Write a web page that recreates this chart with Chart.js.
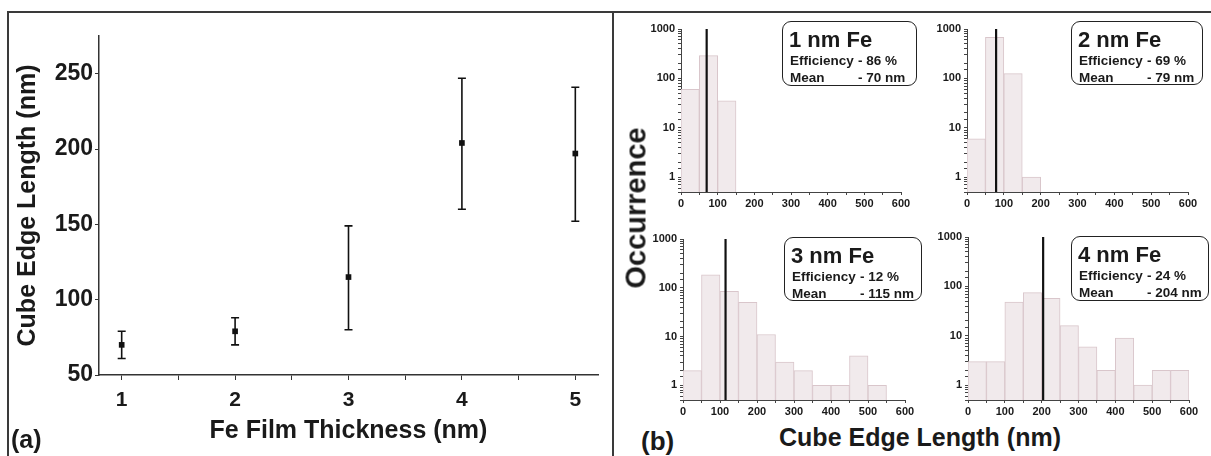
<!DOCTYPE html>
<html>
<head>
<meta charset="utf-8">
<script src="https://cdn.jsdelivr.net/npm/chart.js@4.4.1/dist/chart.umd.min.js"></script>
<style>
  html, body { margin: 0; padding: 0; background: #fff; }
  #fig { position: relative; width: 1211px; height: 456px; overflow: hidden;
         font-family: 'Liberation Sans', Arial, sans-serif; font-weight: bold; color: #1a1a1a; }
  canvas { position: absolute; }
  .rule { position: absolute; background: #3a3a3a; }
  .lbl { position: absolute; white-space: nowrap; line-height: 1; }
  .box { position: absolute; border: 1.5px solid #222; border-radius: 9px; box-sizing: border-box; overflow: hidden; }
  .box .head { position: absolute; left: 6px; top: 5px; font-size: 22px; }
  .box .row { position: absolute; left: 7px; font-size: 13.5px; white-space: nowrap; }
  .box .row span { display: inline-block; width: 68px; }
</style>
</head>
<body>
<div id="fig">
  <canvas id="cubeChart" width="612" height="456" style="left:0;top:0"></canvas>
  <canvas id="hist1" width="275" height="200" style="left:640px;top:15px"></canvas>
  <canvas id="hist2" width="275" height="200" style="left:926px;top:15px"></canvas>
  <canvas id="hist3" width="278" height="196" style="left:641px;top:225px"></canvas>
  <canvas id="hist4" width="276" height="198" style="left:927px;top:223px"></canvas>

  <div class="rule" style="left:7px;top:11px;width:1204px;height:1.5px"></div>
  <div class="rule" style="left:7px;top:11px;width:1.5px;height:445px"></div>
  <div class="rule" style="left:612px;top:11px;width:1.5px;height:445px"></div>

  <div class="lbl" style="left:11px;top:427px;font-size:25px">(a)</div>
  <div class="lbl" style="left:641px;top:428px;font-size:26px">(b)</div>
  <div class="lbl" style="left:920px;top:437px;font-size:25px;transform:translate(-50%,-50%)">Cube Edge Length (nm)</div>
  <div class="lbl" style="left:636px;top:208px;font-size:29px;transform:translate(-50%,-50%) rotate(-90deg)">Occurrence</div>

  <div class="box" id="box1" style="left:782px;top:21px;width:135px;height:65px"></div>
  <div class="box" id="box2" style="left:1071px;top:21px;width:132px;height:64px"></div>
  <div class="box" id="box3" style="left:784px;top:237px;width:138px;height:64px"></div>
  <div class="box" id="box4" style="left:1071px;top:236px;width:138px;height:65px"></div>
</div>
<script>
// (a) mean cube edge length vs Fe film thickness
var thickness = [1, 2, 3, 4, 5];
var edgeMean = [70, 79, 115, 204, 197];
var edgeLow = [61, 70, 80, 160, 152];
var edgeHigh = [79, 88, 149, 247, 241];
var thicknessTicks = [1, 1.5, 2, 2.5, 3, 3.5, 4, 4.5, 5];
var edgeTicks = [50, 100, 150, 200, 250];

// (b) histograms, 50 nm bins
var binCenters = [25, 75, 125, 175, 225, 275, 325, 375, 425, 475, 525, 575];
var counts1nm = [60, 290, 35];
var counts2nm = [6, 680, 125, 1];
var counts3nm = [2, 185, 85, 50, 11, 3, 2, 1, 1, 4, 1];
var counts4nm = [3, 3, 48, 75, 57, 16, 6, 2, 9, 1, 2, 2];
var filmLabels = ['1 nm Fe', '2 nm Fe', '3 nm Fe', '4 nm Fe'];
var efficiency = [86, 69, 12, 24];
var meanEdge = [70, 79, 115, 204];
var logTickLabels = [1, 10, 100, 1000];

Chart.defaults.font.family = "'Liberation Sans', Arial, sans-serif";
Chart.defaults.font.weight = 'bold';
Chart.defaults.color = '#1a1a1a';
Chart.defaults.animation = false;
Chart.defaults.plugins.legend.display = false;
Chart.defaults.plugins.tooltip.enabled = false;

var errorBars = {
	id: 'errorBars',
	beforeDatasetsDraw: function (chart) {
		var ctx = chart.ctx,
			xs = chart.scales.x,
			ys = chart.scales.y;
		ctx.save();
		ctx.strokeStyle = '#111';
		ctx.lineWidth = 1.6;
		for (var i = 0; i < thickness.length; i++) {
			var px = xs.getPixelForValue(thickness[i]),
				lo = ys.getPixelForValue(edgeLow[i]),
				hi = ys.getPixelForValue(edgeHigh[i]);
			ctx.beginPath();
			ctx.moveTo(px, lo); ctx.lineTo(px, hi);
			ctx.moveTo(px - 4, lo); ctx.lineTo(px + 4, lo);
			ctx.moveTo(px - 4, hi); ctx.lineTo(px + 4, hi);
			ctx.stroke();
		}
		ctx.restore();
	}
};

function fixedTicks(values) {
	return function (s) {
		s.ticks = values.map(function (v) { return {value: v}; });
	};
}

new Chart(document.getElementById('cubeChart'), {
	type: 'scatter',
	data: {
		datasets: [{
			data: thickness.map(function (t, i) { return {x: t, y: edgeMean[i]}; }),
			pointStyle: 'rect',
			pointRadius: 4,
			backgroundColor: '#111',
			borderColor: '#111',
			borderWidth: 0
		}]
	},
	options: {
		responsive: false,
		layout: {padding: {top: 36, right: 14, bottom: 0, left: 0}},
		scales: {
			x: {
				type: 'linear', min: 0.8, max: 5.2, bounds: 'data',
				afterBuildTicks: fixedTicks(thicknessTicks),
				afterFit: function (s) { s.height = 81; },
				grid: {drawOnChartArea: false, tickLength: 5, color: '#333'},
				border: {color: '#333', width: 1.5},
				ticks: {
					autoSkip: false, maxRotation: 0, padding: 8,
					font: {size: 21},
					callback: function (v) { return Number.isInteger(v) ? String(v) : ''; }
				},
				title: {display: true, text: 'Fe Film Thickness (nm)', font: {size: 25}, padding: {top: 0, bottom: 10}}
			},
			y: {
				min: 50, max: 275, bounds: 'data',
				afterBuildTicks: fixedTicks(edgeTicks),
				afterFit: function (s) { s.width = 99; },
				grid: {drawOnChartArea: false, tickLength: 4, color: '#333'},
				border: {color: '#333', width: 1.5},
				ticks: {padding: 2, font: {size: 23}},
				title: {display: true, text: 'Cube Edge Length (nm)', font: {size: 25}, padding: {top: 13, bottom: 0}}
			}
		}
	},
	plugins: [errorBars]
});

function makeHist(id, counts, mean, yWidth, xHeight, pad) {
	var bars = counts.map(function (c, i) { return {x: binCenters[i], y: c}; });
	return new Chart(document.getElementById(id), {
		type: 'bar',
		data: {
			datasets: [{
				type: 'line',
				data: [{x: mean, y: 0.5}, {x: mean, y: 1000}],
				borderColor: '#111',
				borderWidth: 2.2,
				pointRadius: 0,
				order: 0
			}, {
				type: 'bar',
				data: bars,
				backgroundColor: '#f1eaec',
				borderColor: '#d9c6cb',
				borderWidth: 1,
				barPercentage: 1,
				categoryPercentage: 1,
				order: 1
			}]
		},
		options: {
			responsive: false,
			layout: {padding: pad},
			scales: {
				x: {
					type: 'linear', min: 0, max: 600, offset: false,
					afterFit: function (s) { s.height = xHeight; },
					grid: {drawOnChartArea: false, offset: false, tickLength: 3, color: '#444'},
					border: {color: '#444', width: 1},
					ticks: {
						stepSize: 50, autoSkip: false, maxRotation: 0, padding: 2,
						font: {size: 11},
						callback: function (v) { return v % 100 === 0 ? String(v) : ''; }
					}
				},
				y: {
					type: 'logarithmic', min: 0.5, max: 1000,
					afterFit: function (s) { s.width = yWidth; },
					grid: {drawOnChartArea: false, tickLength: 3, color: '#444'},
					border: {color: '#444', width: 1},
					ticks: {
						autoSkip: false, padding: 3, font: {size: 11},
						callback: function (v) {
							for (var k = 0; k < logTickLabels.length; k++) {
								if (Math.abs(v - logTickLabels[k]) < 1e-6) return String(logTickLabels[k]);
							}
							return '';
						}
					}
				}
			}
		}
	});
}

makeHist('hist1', counts1nm, meanEdge[0], 41, 23, {top: 14, right: 14, bottom: 0, left: 0});
makeHist('hist2', counts2nm, meanEdge[1], 41, 23, {top: 14, right: 13, bottom: 0, left: 0});
makeHist('hist3', counts3nm, meanEdge[2], 42, 21, {top: 14, right: 14, bottom: 0, left: 0});
makeHist('hist4', counts4nm, meanEdge[3], 41, 21, {top: 14, right: 14, bottom: 0, left: 0});

for (var i = 0; i < filmLabels.length; i++) {
	var box = document.getElementById('box' + (i + 1));
	box.innerHTML = '<div class="head">' + filmLabels[i] + '</div>' +
		'<div class="row" style="top:31px"><span>Efficiency</span>- ' + efficiency[i] + ' %</div>' +
		'<div class="row" style="top:48px"><span>Mean</span>- ' + meanEdge[i] + ' nm</div>';
}
</script>
</body>
</html>
